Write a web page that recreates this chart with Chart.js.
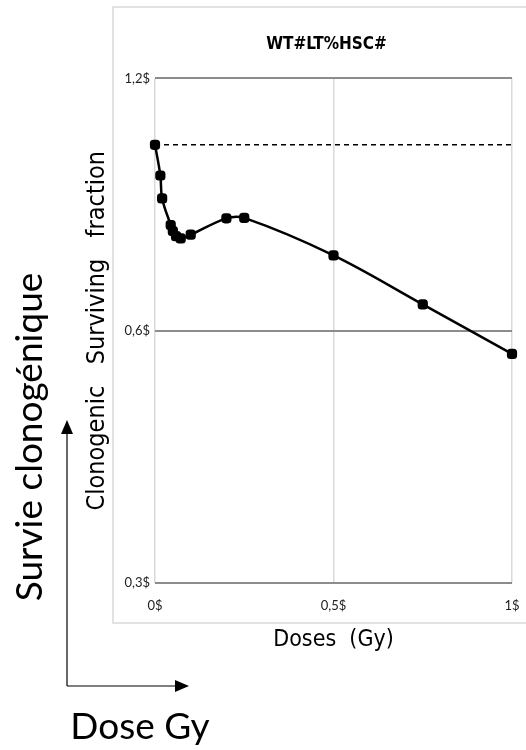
<!DOCTYPE html>
<html>
<head>
<meta charset="utf-8">
<script src="https://cdn.jsdelivr.net/npm/chart.js@4/dist/chart.umd.min.js"></script>
<style>
  html, body { margin: 0; padding: 0; background: #fff; }
  #wrap { width: 526px; height: 750px; }
</style>
</head>
<body>
<div id="wrap"><canvas id="chart" width="526" height="750"></canvas></div>
<script>
// values
const doses = [0, 0.015, 0.02, 0.044, 0.05, 0.059, 0.072, 0.1, 0.2, 0.25, 0.5, 0.75, 1];
const survival = [1.0, 0.919, 0.863, 0.802, 0.789, 0.778, 0.773, 0.781, 0.817, 0.818, 0.738, 0.645, 0.563];

// dashed control level
const refDoses = [0, 1];
const refLevel = [1, 1];

const yTickValues = [0.3, 0.6, 1.2];
const yTickLabels = ["0,3$", "0,6$", "1,2$"];
const xTickValues = [0, 0.5, 1];
const xTickLabels = ["0$", "0,5$", "1$"];

const chartTitle = "WT#LT%HSC#";
const yTitle = "Clonogenic   Surviving   fraction";
const xTitle = "Doses  (Gy)";
const bigYText = "Survie clonogénique";
const bigXText = "Dose Gy";

const narrow = "'Liberation Sans Narrow', 'DejaVu Sans Condensed', Roboto, sans-serif";

// frame, arrows and the big french labels around the chart
const extras = {
  id: "extras",
  afterLayout(chart) {
    // centre the title over the plot area
    const t = chart.titleBlock;
    if (t) {
      t.left = chart.chartArea.left - 7;
      t.right = chart.chartArea.right - 7;
    }
  },
  beforeDraw(chart) {
    const ctx = chart.ctx;
    ctx.save();
    ctx.strokeStyle = "#d9d9d9";
    ctx.lineWidth = 1.5;
    ctx.strokeRect(113, 7, 430, 616);
    ctx.restore();
  },
  afterDraw(chart) {
    const ctx = chart.ctx;
    ctx.save();
    ctx.strokeStyle = "#000";
    ctx.fillStyle = "#000";
    ctx.lineWidth = 1.2;
    // vertical arrow
    ctx.beginPath();
    ctx.moveTo(67, 686);
    ctx.lineTo(67, 432);
    ctx.stroke();
    ctx.beginPath();
    ctx.moveTo(67, 420);
    ctx.lineTo(61, 434);
    ctx.lineTo(73, 434);
    ctx.closePath();
    ctx.fill();
    // horizontal arrow
    ctx.beginPath();
    ctx.moveTo(67, 686);
    ctx.lineTo(176, 686);
    ctx.stroke();
    ctx.beginPath();
    ctx.moveTo(189, 686);
    ctx.lineTo(175, 680);
    ctx.lineTo(175, 692);
    ctx.closePath();
    ctx.fill();

    ctx.font = "37px Lato, 'Open Sans', sans-serif";
    ctx.textBaseline = "middle";
    ctx.textAlign = "center";
    ctx.fillText(bigXText, 140, 727);
    ctx.translate(30, 437);
    ctx.rotate(-Math.PI / 2);
    ctx.fillText(bigYText, 0, 0);
    ctx.restore();
  }
};

const config = {
  type: "line",
  data: {
    datasets: [
      {
        label: "survival",
        data: doses.map((d, i) => ({ x: d, y: survival[i] })),
        borderColor: "#000",
        backgroundColor: "#000",
        borderWidth: 2.5,
        tension: 0.35,
        pointRadius: 4.5,
        pointStyle: "rectRounded",
        clip: false
      },
      {
        label: "control",
        data: refDoses.map((d, i) => ({ x: d, y: refLevel[i] })),
        borderColor: "#000",
        borderWidth: 1.5,
        borderDash: [5, 4],
        pointRadius: 0,
        clip: false
      }
    ]
  },
  options: {
    responsive: false,
    animation: false,
    layout: { padding: { left: 82, right: 14, top: 0, bottom: 96 } },
    plugins: {
      legend: { display: false },
      tooltip: { enabled: false },
      title: {
        display: true,
        text: chartTitle,
        color: "#000",
        font: { family: narrow, size: 17, weight: "bold" },
        padding: { top: 34, bottom: 24 }
      }
    },
    scales: {
      x: {
        type: "linear",
        min: 0,
        max: 1,
        afterBuildTicks: axis => { axis.ticks = xTickValues.map(v => ({ value: v })); },
        afterFit: scale => {
          scale.height = 71;
          scale.paddingLeft = 0;
          scale.paddingRight = 0;
        },
        ticks: {
          color: "#222",
          font: { family: "Lato, sans-serif", size: 13 },
          padding: 15,
          callback: (v) => xTickLabels[xTickValues.indexOf(v)]
        },
        grid: { color: "#d9d9d9", lineWidth: 1.5, drawTicks: false },
        border: { display: false },
        title: {
          display: true,
          text: xTitle,
          color: "#000",
          font: { family: narrow, size: 23 },
          padding: 0
        }
      },
      y: {
        type: "logarithmic",
        min: 0.3,
        max: 1.2,
        afterBuildTicks: axis => { axis.ticks = yTickValues.map(v => ({ value: v })); },
        afterFit: scale => { scale.width = 73; },
        ticks: {
          color: "#222",
          font: { family: "Lato, sans-serif", size: 13 },
          padding: 5,
          callback: (v) => yTickLabels[yTickValues.indexOf(v)]
        },
        grid: { color: "#8c8c8c", lineWidth: 2, drawTicks: false },
        border: { display: false },
        title: {
          display: true,
          text: yTitle,
          color: "#000",
          font: { family: narrow, size: 25 },
          padding: 0
        }
      }
    }
  },
  plugins: [extras]
};

const myChart = new Chart(document.getElementById("chart"), config);
</script>
</body>
</html>
